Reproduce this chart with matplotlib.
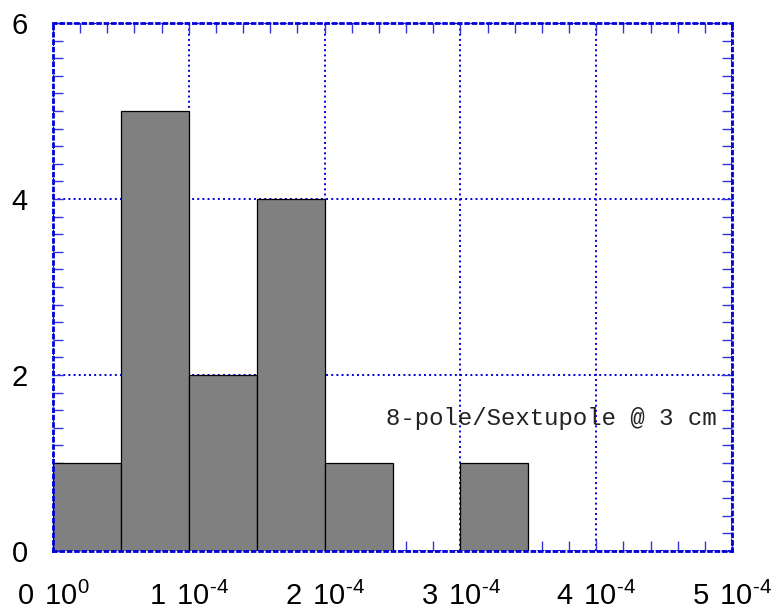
import numpy as np
import matplotlib.pyplot as plt
from matplotlib.ticker import MultipleLocator

plt.rcParams['font.family'] = 'Liberation Sans'
plt.rcParams['mathtext.fontset'] = 'custom'
plt.rcParams['mathtext.rm'] = 'Liberation Sans'

bin_left = np.arange(0, 5e-4, 0.5e-4)
counts = [1, 5, 2, 4, 1, 0, 1, 0, 0, 0]
bin_width = 0.5e-4
xticks = [0, 1e-4, 2e-4, 3e-4, 4e-4, 5e-4]
mantissas = ["0", "1", "2", "3", "4", "5"]
exponents = ["0", "-4", "-4", "-4", "-4", "-4"]
yticks = [0, 2, 4, 6]
label = "8-pole/Sextupole @ 3 cm"

xlabels = [r"$\mathrm{%s}\hspace{0.4}\mathrm{10}^{\text{%s}}$" % (m, e)
           for m, e in zip(mantissas, exponents)]

fig = plt.figure(figsize=(7.81, 6.14), dpi=100)
ax = fig.add_axes([53 / 781, 63 / 614, 679 / 781, 528 / 614])

ax.bar(bin_left, counts, width=bin_width, align='edge',
       color='#808080', edgecolor='black', linewidth=0.9, zorder=2)

ax.set_xlim(0, 5e-4)
ax.set_ylim(0, 6)
ax.set_xticks(xticks)
ax.set_xticklabels(xlabels)
ax.set_yticks(yticks)
ax.xaxis.set_minor_locator(MultipleLocator(0.2e-4))
ax.yaxis.set_minor_locator(MultipleLocator(0.2))

ax.grid(True, which='major', color='#0000dd', linestyle=':', linewidth=1.4, zorder=0)
ax.set_axisbelow(True)

for sp in ax.spines.values():
    sp.set_color('#0000dd')
    sp.set_linestyle(':')
    sp.set_linewidth(2.0)

ax.tick_params(which='both', direction='in', top=True, right=True,
               color='#3333dd', width=1.0)
ax.tick_params(which='major', length=8, labelsize=21)
ax.tick_params(which='minor', length=7)
ax.tick_params(axis='x', which='major', pad=22)
ax.tick_params(axis='y', which='major', pad=18)

ax.text(2.45e-4, 1.51, label, family='Liberation Mono', fontsize=17.3,
        ha='left', va='center', color='#222222')

fig.savefig('out.png', dpi=100)
